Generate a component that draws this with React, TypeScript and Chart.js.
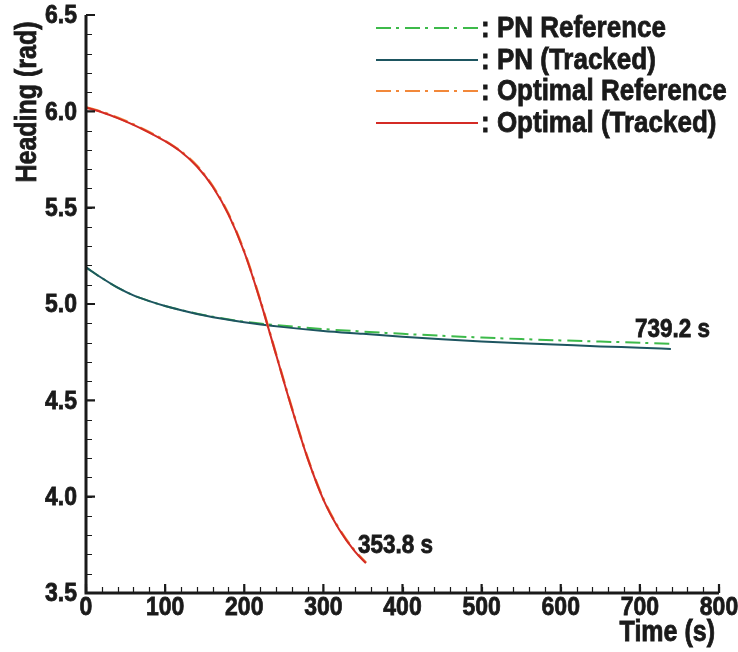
import React, { useEffect, useRef } from "react";
import { Chart, registerables } from "chart.js";

Chart.register(...registerables);

// ---- data ----
const tPN = [0, 20, 40, 60, 80, 100, 150, 200, 250, 300, 350, 400, 450, 500, 550, 600, 650, 700, 739.2];
const pnTracked = [5.19, 5.135, 5.085, 5.045, 5.015, 4.99, 4.94, 4.905, 4.88, 4.86, 4.845, 4.83, 4.817, 4.806, 4.796, 4.788, 4.78, 4.773, 4.767];
const pnReference = [5.19, 5.135, 5.085, 5.045, 5.015, 4.99, 4.942, 4.908, 4.887, 4.87, 4.857, 4.845, 4.835, 4.826, 4.818, 4.811, 4.805, 4.799, 4.794];

const tOpt = [0, 20, 40, 60, 80, 100, 120, 140, 160, 180, 200, 220, 240, 260, 280, 300, 320, 340, 353.8];
const optTracked = [6.02, 5.995, 5.965, 5.93, 5.89, 5.845, 5.79, 5.715, 5.61, 5.465, 5.27, 5.02, 4.74, 4.46, 4.2, 3.985, 3.83, 3.715, 3.655];
const optReference = [6.022, 5.997, 5.967, 5.932, 5.892, 5.847, 5.792, 5.718, 5.613, 5.468, 5.273, 5.023, 4.743, 4.463, 4.203, 3.988, 3.833, 3.718, 3.658];

const xTicks = [0, 100, 200, 300, 400, 500, 600, 700, 800];
const xTickLabels = ["0", "100", "200", "300", "400", "500", "600", "700", "800"];
const yTicks = [3.5, 4.0, 4.5, 5.0, 5.5, 6.0, 6.5];
const yTickLabels = ["3.5", "4.0", "4.5", "5.0", "5.5", "6.0", "6.5"];
const xMinorStep = 20;
const yMinorStep = 0.1;

const seriesNames = [": PN Reference", ": PN (Tracked)", ": Optimal Reference", ": Optimal (Tracked)"];
const endLabels = ["739.2 s", "353.8 s"];

const xTitle = "Time (s)";
const yTitle = "Heading (rad)";

const COLORS = {
  pnRef: "#3dba4a",
  pnTrk: "#1d5560",
  optRef: "#f2883a",
  optTrk: "#d42b25",
};
const DASH_DOT = [15, 5, 3, 6];
const FONT = '"Liberation Sans", Arial, Helvetica, sans-serif';
const SY = 1.15;

const toPts = (xs: number[], ys: number[]) => xs.map((x, i) => ({ x, y: ys[i] }));

function txt(ctx: CanvasRenderingContext2D, s: string, x: number, y: number) {
  ctx.save();
  ctx.translate(x, y);
  ctx.scale(1, SY);
  ctx.lineWidth = 0.7;
  ctx.strokeStyle = ctx.fillStyle as string;
  ctx.fillText(s, 0, 0);
  ctx.strokeText(s, 0, 0);
  ctx.restore();
}

const decorPlugin = {
  id: "decor",
  afterDraw(chart: any) {
    const ctx: CanvasRenderingContext2D = chart.ctx;
    const xs = chart.scales.x;
    const ys = chart.scales.y;
    const area = chart.chartArea;
    ctx.save();
    ctx.strokeStyle = "#1a1a1a";
    ctx.fillStyle = "#1a1a1a";

    // minor ticks
    ctx.lineWidth = 1.2;
    ctx.beginPath();
    for (let v = xs.min; v <= xs.max + 1e-6; v += xMinorStep) {
      const px = Math.round(xs.getPixelForValue(v)) + 0.5;
      ctx.moveTo(px, area.bottom);
      ctx.lineTo(px, area.bottom - 6);
    }
    for (let v = ys.min; v <= ys.max + 1e-6; v += yMinorStep) {
      const py = Math.round(ys.getPixelForValue(v)) + 0.5;
      ctx.moveTo(area.left, py);
      ctx.lineTo(area.left + 6, py);
    }
    ctx.stroke();

    // major ticks
    ctx.lineWidth = 2.2;
    ctx.beginPath();
    xTicks.forEach((v) => {
      const px = xs.getPixelForValue(v);
      ctx.moveTo(px, area.bottom);
      ctx.lineTo(px, area.bottom - 9);
    });
    yTicks.forEach((v) => {
      const py = ys.getPixelForValue(v);
      ctx.moveTo(area.left, py);
      ctx.lineTo(area.left + 9, py);
    });
    ctx.stroke();

    // axis lines
    ctx.lineWidth = 3;
    ctx.beginPath();
    ctx.moveTo(area.left, area.top);
    ctx.lineTo(area.left, area.bottom);
    ctx.lineTo(area.right, area.bottom);
    ctx.stroke();

    // tick labels
    ctx.font = `bold 23px ${FONT}`;
    ctx.textAlign = "center";
    ctx.textBaseline = "middle";
    xTicks.forEach((v, i) => {
      txt(ctx, xTickLabels[i], xs.getPixelForValue(v), area.bottom + 15);
    });
    ctx.textAlign = "right";
    yTicks.forEach((v, i) => {
      txt(ctx, yTickLabels[i], area.left - 9, ys.getPixelForValue(v) + 1);
    });

    // axis titles
    ctx.font = `bold 25px ${FONT}`;
    ctx.textAlign = "right";
    ctx.textBaseline = "middle";
    txt(ctx, xTitle, 715, 633);
    ctx.textAlign = "center";
    ctx.save();
    ctx.translate(28, 102);
    ctx.rotate(-Math.PI / 2);
    ctx.scale(1, SY);
    ctx.lineWidth = 0.7;
    ctx.fillText(yTitle, 0, 0);
    ctx.strokeText(yTitle, 0, 0);
    ctx.restore();

    // end labels
    ctx.font = `bold 22.5px ${FONT}`;
    ctx.textAlign = "left";
    ctx.textBaseline = "middle";
    txt(ctx, endLabels[0], 635, 330);
    txt(ctx, endLabels[1], 358, 546);

    // legend
    const rows = [
      { c: COLORS.pnRef, d: DASH_DOT },
      { c: COLORS.pnTrk, d: [] as number[] },
      { c: COLORS.optRef, d: DASH_DOT },
      { c: COLORS.optTrk, d: [] as number[] },
    ];
    const rowY = [28, 60, 91, 123];
    ctx.font = `bold 26px ${FONT}`;
    rows.forEach((r, i) => {
      ctx.save();
      ctx.strokeStyle = r.c;
      ctx.lineWidth = 2;
      ctx.setLineDash(r.d);
      ctx.beginPath();
      ctx.moveTo(376, rowY[i]);
      ctx.lineTo(478, rowY[i]);
      ctx.stroke();
      ctx.restore();
      ctx.fillStyle = "#1a1a1a";
      ctx.textAlign = "left";
      ctx.textBaseline = "middle";
      txt(ctx, seriesNames[i], 481, rowY[i] + 1);
    });

    ctx.restore();
  },
};

export default function App() {
  const ref = useRef<HTMLCanvasElement | null>(null);
  useEffect(() => {
    document.body.style.margin = "0";
    const canvas = ref.current!;
    const chart = new Chart(canvas, {
      type: "line",
      data: {
        datasets: [
          {
            label: seriesNames[3],
            data: toPts(tOpt, optTracked),
            borderColor: COLORS.optTrk,
            borderWidth: 2,
            pointRadius: 0,
            cubicInterpolationMode: "monotone",
            order: 0,
          },
          {
            label: seriesNames[2],
            data: toPts(tOpt, optReference),
            borderColor: COLORS.optRef,
            borderWidth: 2.5,
            borderDash: DASH_DOT,
            pointRadius: 0,
            cubicInterpolationMode: "monotone",
            order: 1,
          },
          {
            label: seriesNames[1],
            data: toPts(tPN, pnTracked),
            borderColor: COLORS.pnTrk,
            borderWidth: 2,
            pointRadius: 0,
            cubicInterpolationMode: "monotone",
            order: 2,
          },
          {
            label: seriesNames[0],
            data: toPts(tPN, pnReference),
            borderColor: COLORS.pnRef,
            borderWidth: 2,
            borderDash: DASH_DOT,
            pointRadius: 0,
            cubicInterpolationMode: "monotone",
            order: 3,
          },
        ],
      },
      options: {
        animation: false,
        responsive: false,
        maintainAspectRatio: false,
        layout: { padding: { left: 86, right: 19, top: 15, bottom: 59 } },
        plugins: { legend: { display: false }, tooltip: { enabled: false } },
        scales: {
          x: { type: "linear", min: 0, max: 800, display: false },
          y: { type: "linear", min: 3.5, max: 6.5, display: false },
        },
      },
      plugins: [decorPlugin],
    });
    return () => chart.destroy();
  }, []);
  return (
    <div style={{ width: 738, height: 652, background: "#fff" }}>
      <canvas ref={ref} width={738} height={652} style={{ display: "block" }} />
    </div>
  );
}
